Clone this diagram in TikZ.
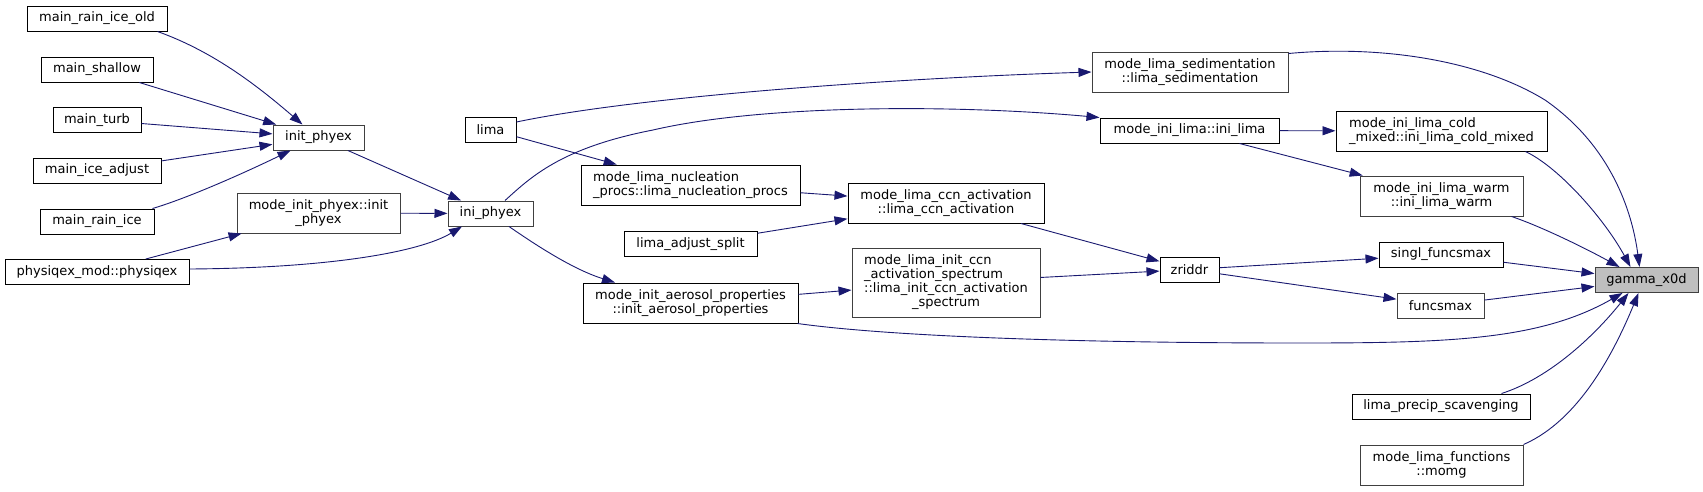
\documentclass[tikz,border=0pt]{standalone}
\usepackage{fontspec}
\setmainfont{DejaVu Sans}
\usepackage{tikz}
\usetikzlibrary{arrows.meta}

\definecolor{edgeblue}{RGB}{25,25,112}
\definecolor{focusgray}{RGB}{191,191,191}
\definecolor{darkline}{RGB}{64,64,64}

\tikzset{
  fn/.style={draw=black, line width=1pt, fill=white, inner sep=0pt, align=center,
    minimum height=25pt, font=\fontsize{13}{14}\selectfont},
  fndark/.style={fn, draw=darkline},
  call/.style={draw=edgeblue, line width=0.9pt, -{Triangle[length=13pt,width=9pt]}}
}

\begin{document}
\begin{tikzpicture}[x=1pt, y=-1pt]
  \useasboundingbox (0,0) rectangle (1703,491);

  % Main programs on the far left
  \node[fn, minimum width=140pt] (mrainiceold) at (97,18.5) {main\_rain\_ice\_old};
  \node[fn, minimum width=112pt] (mshallow) at (97,69.5) {main\_shallow};
  \node[fn, minimum width=88pt] (mturb) at (97,120) {main\_turb};
  \node[fn, minimum width=128pt] (miceadjust) at (97,170.5) {main\_ice\_adjust};
  \node[fn, minimum width=114pt] (mrainice) at (97,221.5) {main\_rain\_ice};
  \node[fn, minimum width=184pt] (physiqex) at (97,272) {physiqex\_mod::physiqex};

  % Second column
  \node[fndark, minimum width=91pt] (initphyex) at (318.5,137.5) {init\_phyex};
  \node[fndark, minimum width=163pt, minimum height=40pt] (modeinitphyex) at (318.5,213) {mode\_init\_phyex::init\\\_phyex};

  % ini_phyex and lima
  \node[fndark, minimum width=85pt] (iniphyex) at (490.5,213.5) {ini\_phyex};
  \node[fn, minimum width=51pt] (lima) at (490.5,129.5) {lima};

  % Fourth column
  \node[fn, align=left, minimum width=219pt, minimum height=40pt] (nucleation) at (690.5,185) {mode\_lima\_nucleation\\\_procs::lima\_nucleation\_procs};
  \node[fn, minimum width=133pt] (adjustsplit) at (690.5,244) {lima\_adjust\_split};
  \node[fn, minimum width=215pt, minimum height=40pt] (aerosol) at (690.5,303) {mode\_init\_aerosol\_properties\\::init\_aerosol\_properties};

  % CCN activation
  \node[fn, minimum width=196pt, minimum height=40pt] (ccnact) at (946,203) {mode\_lima\_ccn\_activation\\::lima\_ccn\_activation};
  \node[fndark, minimum width=188pt, minimum height=69pt] (ccnspectrum) at (946,282.5)
    {\begin{tabular}{@{}l@{}}mode\_lima\_init\_ccn\\\_activation\_spectrum\\::lima\_init\_ccn\_activation\\\multicolumn{1}{@{}c@{}}{\_spectrum}\end{tabular}};

  % Sixth column
  \node[fndark, minimum width=196pt, minimum height=40pt] (sedimentation) at (1190,72) {mode\_lima\_sedimentation\\::lima\_sedimentation};
  \node[fn, minimum width=179pt] (inilima) at (1189.5,130.5) {mode\_ini\_lima::ini\_lima};
  \node[fn, minimum width=59pt] (zriddr) at (1189.5,269.5) {zriddr};

  % Direct callers of gamma_x0d
  \node[fn, align=left, minimum width=211pt, minimum height=40pt] (coldmixed) at (1441.5,131) {mode\_ini\_lima\_cold\\\_mixed::ini\_lima\_cold\_mixed};
  \node[fndark, minimum width=163pt, minimum height=40pt] (warm) at (1441.5,196) {mode\_ini\_lima\_warm\\::ini\_lima\_warm};
  \node[fn, minimum width=124pt] (singlfuncsmax) at (1441,254.5) {singl\_funcsmax};
  \node[fndark, minimum width=87pt] (funcsmax) at (1440.5,305.5) {funcsmax};
  \node[fn, minimum width=178pt] (precip) at (1441,406.5) {lima\_precip\_scavenging};
  \node[fndark, minimum width=163pt, minimum height=40pt] (momg) at (1441.5,465) {mode\_lima\_functions\\::momg};

  % The function itself
  \node[fndark, fill=focusgray, minimum width=103pt] (gammaxod) at (1646.5,280) {gamma\_x0d};

  % Calls into init_phyex
  \draw[call] ([xshift=-10pt]mrainiceold.south east) .. controls (215,52) and (260,88) .. ([xshift=-16pt]initphyex.north);
  \draw[call] (mshallow) -- (initphyex);
  \draw[call] (mturb) -- (initphyex);
  \draw[call] (miceadjust) -- (initphyex);
  \draw[call] ([xshift=-2pt]mrainice.north east) .. controls (185,199) and (240,175) .. ([xshift=-28pt]initphyex.south);

  % Calls into ini_phyex
  \draw[call] (initphyex) -- (iniphyex);
  \draw[call] (modeinitphyex) -- (iniphyex);
  \draw[call] (physiqex) -- (modeinitphyex);
  \draw[call] ([yshift=3pt]physiqex.east) .. controls (330,268) and (420,252) .. ([xshift=-28.5pt]iniphyex.south);

  % From ini_phyex and lima
  \draw[call] ([xshift=14.5pt]iniphyex.north) .. controls (530,178) and (560,148) .. (653,130)
    .. controls (760,105) and (950,104) .. (inilima.north west);
  \draw[call] ([xshift=18.5pt]iniphyex.south) .. controls (540,248) and (575,270) .. ([xshift=-75.5pt]aerosol.north);
  \draw[call] ([yshift=7.5pt]lima.east) .. controls (640,96) and (900,78) .. (sedimentation.west);
  \draw[call] (lima) -- (nucleation);

  % CCN activation and zriddr
  \draw[call] (nucleation) -- (ccnact);
  \draw[call] (adjustsplit) -- (ccnact);
  \draw[call] (aerosol) -- (ccnspectrum);
  \draw[call] (ccnact) -- (zriddr);
  \draw[call] (ccnspectrum) -- (zriddr);
  \draw[call] (zriddr) -- (singlfuncsmax);
  \draw[call] (zriddr) -- (funcsmax);

  % ini_lima
  \draw[call] (inilima) -- (coldmixed);
  \draw[call] (inilima) -- (warm);

  % Everything that ends in gamma_x0d
  \draw[call] ([yshift=-2pt]sedimentation.north east) .. controls (1380,45) and (1480,60) .. (1545,100)
    .. controls (1610,145) and (1632,210) .. ([xshift=-7pt]gammaxod.north);
  \draw[call] ([xshift=-22pt]coldmixed.south east) .. controls (1560,168) and (1605,220) .. ([xshift=-16pt]gammaxod.north);
  \draw[call] ([xshift=-12pt]warm.south east) .. controls (1540,226) and (1585,248) .. ([xshift=-27pt]gammaxod.north);
  \draw[call] (singlfuncsmax) -- (gammaxod);
  \draw[call] (funcsmax) -- (gammaxod);
  \draw[call] ([xshift=-1pt]aerosol.south east) .. controls (880,335) and (1050,343) .. (1300,343)
    .. controls (1450,343) and (1540,340) .. ([xshift=-24pt]gammaxod.south);
  \draw[call] ([xshift=-29pt]precip.north east) .. controls (1550,378) and (1595,335) .. ([xshift=-18pt]gammaxod.south);
  \draw[call] (momg.north east) .. controls (1580,420) and (1615,350) .. ([xshift=-8pt]gammaxod.south);

\end{tikzpicture}
\end{document}
